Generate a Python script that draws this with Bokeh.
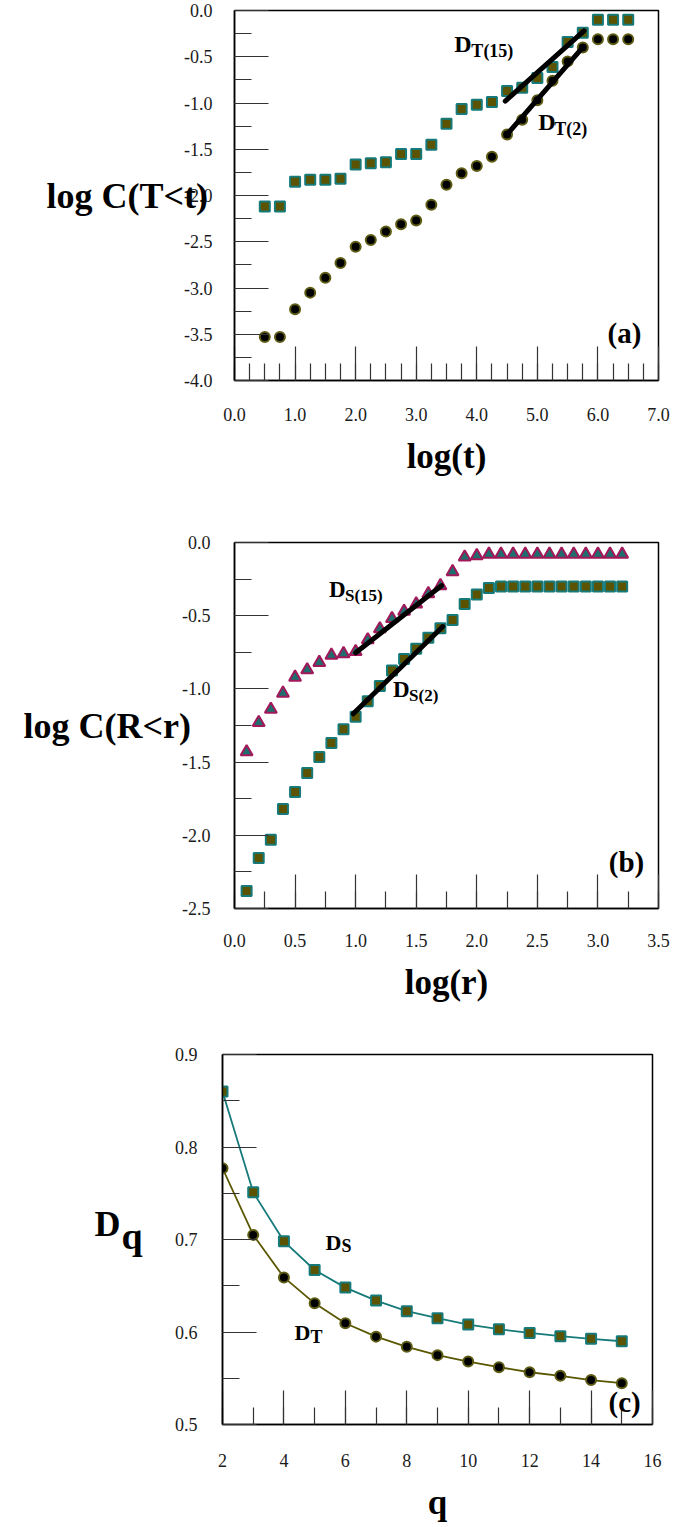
from bokeh.plotting import figure
from bokeh.layouts import column, row
from bokeh.models import SingleIntervalTicker, PrintfTickFormatter, Label, Range1d
from bokeh.embed import file_html
from bokeh.resources import INLINE

# ---------------- Panel (a) data ----------------
log_t = [0.5, 0.75, 1.0, 1.25, 1.5, 1.75, 2.0, 2.25, 2.5, 2.75, 3.0, 3.25, 3.5,
         3.75, 4.0, 4.25, 4.5, 4.75, 5.0, 5.25, 5.5, 5.75, 6.0, 6.25, 6.5]
logC_T15 = [-2.12, -2.12, -1.85, -1.83, -1.83, -1.82, -1.665, -1.65, -1.64, -1.55, -1.55,
            -1.45, -1.225, -1.065, -1.02, -0.99, -0.87, -0.835, -0.73, -0.61, -0.34,
            -0.24, -0.10, -0.10, -0.10]
logC_T2 = [-3.53, -3.53, -3.23, -3.05, -2.89, -2.73, -2.555, -2.48, -2.39, -2.31, -2.27,
           -2.10, -1.885, -1.76, -1.68, -1.58, -1.34, -1.18, -0.97, -0.76, -0.55,
           -0.40, -0.31, -0.31, -0.31]
fitT15_x = [4.47, 5.77]
fitT15_y = [-0.98, -0.22]
fitT2_x = [4.50, 5.76]
fitT2_y = [-1.34, -0.39]

# ---------------- Panel (b) data ----------------
log_r = [0.1, 0.2, 0.3, 0.4, 0.5, 0.6, 0.7, 0.8, 0.9, 1.0, 1.1, 1.2, 1.3, 1.4, 1.5, 1.6,
         1.7, 1.8, 1.9, 2.0, 2.1, 2.2, 2.3, 2.4, 2.5, 2.6, 2.7, 2.8, 2.9, 3.0, 3.1, 3.2]
logC_S15 = [-1.43, -1.23, -1.14, -1.03, -0.92, -0.87, -0.82, -0.77, -0.76, -0.745, -0.665,
            -0.59, -0.52, -0.47, -0.42, -0.35, -0.295, -0.20, -0.10, -0.09, -0.08, -0.08,
            -0.08, -0.08, -0.08, -0.08, -0.08, -0.08, -0.08, -0.08, -0.08, -0.08]
logC_S2 = [-2.38, -2.155, -2.03, -1.82, -1.705, -1.575, -1.465, -1.37, -1.275, -1.19, -1.085,
           -0.98, -0.875, -0.795, -0.725, -0.65, -0.585, -0.53, -0.42, -0.355, -0.31, -0.30,
           -0.30, -0.30, -0.30, -0.30, -0.30, -0.30, -0.30, -0.30, -0.30, -0.30]
fitS15_x = [1.00, 1.71]
fitS15_y = [-0.753, -0.294]
fitS2_x = [0.98, 1.72]
fitS2_y = [-1.17, -0.574]

# ---------------- Panel (c) data ----------------
q_vals = [2, 3, 4, 5, 6, 7, 8, 9, 10, 11, 12, 13, 14, 15]
D_S = [0.860, 0.751, 0.698, 0.667, 0.648, 0.634, 0.6225, 0.615, 0.608, 0.603, 0.599,
       0.5955, 0.5926, 0.590]
D_T = [0.777, 0.705, 0.659, 0.631, 0.6095, 0.595, 0.584, 0.575, 0.568, 0.562, 0.5565,
       0.5526, 0.548, 0.5447]

SERIF = "Liberation Serif"
TEAL = "#177a7a"
OLIVE = "#5b5300"
OLIVE_EDGE = "#5e5c14"
MAROON = "#a3185a"
TRI_FILL = "#1f6d6d"
LIFT = 10  # screen-pixel lift applied to in-plot text labels


def make_fig(width, height, left, right, top, bottom, xr, yr):
    p = figure(width=width, height=height, output_backend="svg", toolbar_location=None,
               min_border_left=left, min_border_right=right,
               min_border_top=top, min_border_bottom=bottom,
               x_range=Range1d(*xr), y_range=Range1d(*yr))
    p.grid.visible = False
    p.outline_line_color = "black"
    p.outline_line_width = 1.5
    p.background_fill_color = "white"
    p.border_fill_color = "white"
    return p


def style_axes(p, xint, xminor, yint, yminor, xfmt, yfmt, xstand, ystand,
               xlabel, ylabel, ylabel_standoff):
    p.xaxis.ticker = SingleIntervalTicker(interval=xint, num_minor_ticks=xminor)
    p.yaxis.ticker = SingleIntervalTicker(interval=yint, num_minor_ticks=yminor)
    p.xaxis.formatter = PrintfTickFormatter(format=xfmt)
    p.yaxis.formatter = PrintfTickFormatter(format=yfmt)
    for ax in (p.xaxis[0], p.yaxis[0]):
        ax.major_tick_in = 34
        ax.major_tick_out = 0
        ax.minor_tick_in = 17
        ax.minor_tick_out = 0
        ax.axis_line_color = "black"
        ax.axis_line_width = 1.5
        ax.major_tick_line_color = "#333333"
        ax.minor_tick_line_color = "#333333"
        ax.major_tick_line_width = 1.2
        ax.minor_tick_line_width = 1.2
        ax.major_label_text_font = SERIF
        ax.major_label_text_font_size = "18px"
        ax.major_label_text_color = "#1a1a1a"
        ax.axis_label_text_font = SERIF
        ax.axis_label_text_font_style = "bold"
        ax.axis_label_text_font_size = "35px"
        ax.axis_label_text_color = "black"
    p.xaxis.major_label_standoff = xstand
    p.yaxis.major_label_standoff = ystand
    p.xaxis.axis_label = xlabel
    p.xaxis.axis_label_standoff = 13
    if ylabel is not None:
        p.yaxis.axis_label = ylabel
        p.yaxis.axis_label_orientation = "horizontal"
        p.yaxis.axis_label_standoff = ylabel_standoff
        p.yaxis.axis_label_text_font_size = "36px"


def add_label(p, x, y, main, sub, main_size, sub_size, sub_dx, sub_dy):
    p.add_layout(Label(x=x, y=y, y_offset=LIFT, text=main, text_font=SERIF,
                       text_font_style="bold", text_font_size=main_size,
                       text_baseline="alphabetic", text_color="black"))
    if sub:
        p.add_layout(Label(x=x, y=y, x_offset=sub_dx, y_offset=sub_dy + LIFT, text=sub,
                           text_font=SERIF, text_font_style="bold",
                           text_font_size=sub_size, text_baseline="alphabetic",
                           text_color="black"))


# ---------------- Panel (a) ----------------
pa = make_fig(688, 508, 234, 18, 10, 128, (0, 7), (-4, 0))
style_axes(pa, 1, 4, 0.5, 2, "%.1f", "%.1f", 27, 22, "log(t)", "log C(T<t)", -27)
pa.scatter(log_t, logC_T15, marker="square", size=10, fill_color=OLIVE,
           line_color=TEAL, line_width=2)
pa.scatter(log_t, logC_T2, marker="circle", size=10, fill_color="black",
           line_color=OLIVE_EDGE, line_width=2)
pa.line(fitT15_x, fitT15_y, line_width=5, color="black", line_cap="round")
pa.line(fitT2_x, fitT2_y, line_width=5, color="black", line_cap="round")
add_label(pa, 3.63, -0.465, "D", "T(15)", "24px", "18px", 17, -7)
add_label(pa, 5.016, -1.316, "D", "T(2)", "24px", "18px", 16, -7)
add_label(pa, 6.16, -3.59, "(a)", None, "29px", None, 0, 0)

# ---------------- Panel (b) ----------------
pb = make_fig(688, 510, 223, 30, 34, 110, (0, 3.5), (-2.5, 0))
style_axes(pb, 0.5, 2, 0.5, 2, "%.1f", "%.1f", 25, 24, "log(r)", "log C(R<r)", -12)
pb.scatter(log_r, logC_S15, marker="triangle", size=12, fill_color=TRI_FILL,
           line_color=MAROON, line_width=2)
pb.scatter(log_r, logC_S2, marker="square", size=10, fill_color=OLIVE,
           line_color=TEAL, line_width=2)
pb.line(fitS15_x, fitS15_y, line_width=5, color="black", line_cap="round")
pb.line(fitS2_x, fitS2_y, line_width=5, color="black", line_cap="round")
add_label(pb, 0.78, -0.391, "D", "S(15)", "23px", "17px", 16, -6)
add_label(pb, 1.309, -1.075, "D", "S(2)", "23px", "17px", 16, -6)
add_label(pb, 3.09, -2.254, "(b)", None, "29px", None, 0, 0)

# ---------------- Panel (c) ----------------
TITLE_W = 160
pc = make_fig(688 - TITLE_W, 509, 222 - TITLE_W, 36, 36, 103, (2, 16), (0.5, 0.9))
style_axes(pc, 2, 2, 0.1, 2, "%d", "%.1f", 29, 25, "q", None, 0)
pc.line(q_vals, D_S, line_width=1.8, color=TEAL)
pc.line(q_vals, D_T, line_width=1.8, color="#5a5700")
pc.scatter(q_vals, D_S, marker="square", size=10, fill_color=OLIVE,
           line_color=TEAL, line_width=2)
pc.scatter(q_vals, D_T, marker="circle", size=10, fill_color="black",
           line_color=OLIVE_EDGE, line_width=2)
add_label(pc, 5.354, 0.6863, "D", "S", "22px", "18px", 16, -4)
add_label(pc, 4.345, 0.589, "D", "T", "22px", "18px", 16, -5)
add_label(pc, 14.57, 0.514, "(c)", None, "29px", None, 0, 0)

# y-axis title "D_q" of panel (c), drawn in a narrow side panel (pixel coordinates,
# origin at the panel's bottom-left)
pt = figure(width=TITLE_W, height=509, output_backend="svg", toolbar_location=None,
            x_range=Range1d(0, TITLE_W), y_range=Range1d(0, 509),
            x_axis_location=None, y_axis_location=None,
            min_border_left=0, min_border_right=0, min_border_top=0, min_border_bottom=0)
pt.grid.visible = False
pt.outline_line_color = None
pt.background_fill_color = "white"
pt.border_fill_color = "white"
pt.add_layout(Label(x=94, y=276, text="D", text_font=SERIF,
                    text_font_style="bold", text_font_size="36px",
                    text_baseline="alphabetic", text_color="black"))
pt.add_layout(Label(x=121, y=260, text="q", text_font=SERIF,
                    text_font_style="bold", text_font_size="38px",
                    text_baseline="alphabetic", text_color="black"))

layout = column(pa, pb, row(pt, pc, spacing=0), spacing=0)
open("out.html", "w").write(file_html(layout, INLINE))
